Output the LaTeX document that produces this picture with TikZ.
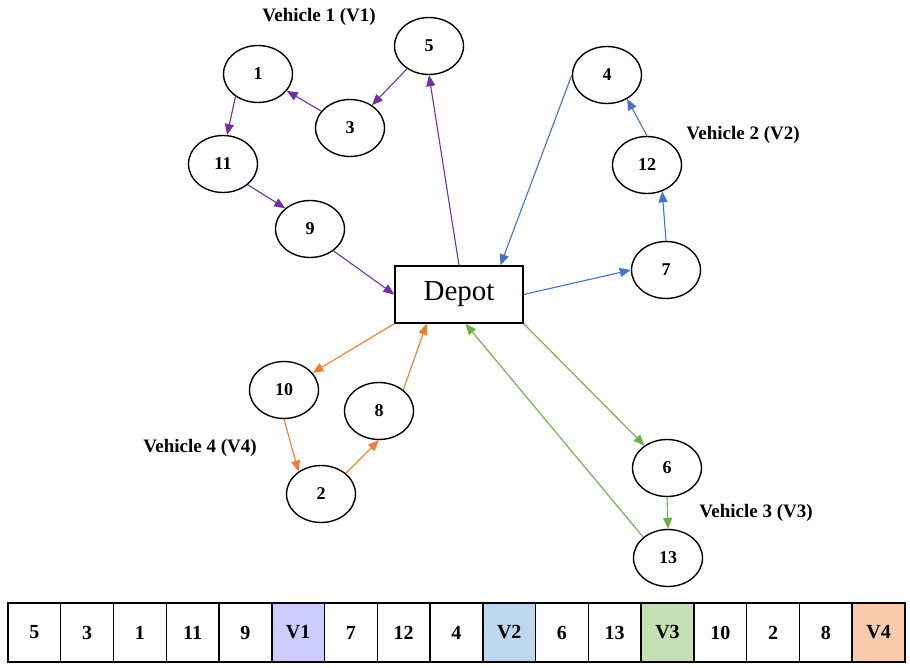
\documentclass[tikz,border=0pt]{standalone}
\usepackage{fontspec}
\setmainfont{Liberation Serif}
\usetikzlibrary{arrows.meta,calc,shapes.geometric}
\definecolor{cpur}{RGB}{112,48,160}
\definecolor{cblu}{RGB}{68,114,196}
\definecolor{cgrn}{RGB}{112,173,71}
\definecolor{cora}{RGB}{237,125,49}
\definecolor{fv1}{RGB}{204,204,255}
\definecolor{fv2}{RGB}{189,215,238}
\definecolor{fv3}{RGB}{197,224,180}
\definecolor{fv4}{RGB}{248,203,173}
\tikzset{
  cust/.style={ellipse,draw=black,line width=1.4pt,minimum width=69pt,minimum height=57pt,inner sep=0pt,font=\fontsize{18}{18}\selectfont\bfseries},
  vlabel/.style={font=\fontsize{19}{19}\selectfont\bfseries,inner sep=0pt},
  route/.style={line width=1.1pt,-{Triangle[length=11pt,width=9pt]}},
  cell/.style={draw=black,line width=1.4pt,minimum width=52.76pt,minimum height=59pt,inner sep=0pt,font=\fontsize{20}{20}\selectfont\bfseries},
}
\begin{document}
\begin{tikzpicture}[x=1pt,y=-1pt]
\useasboundingbox (0,0) rectangle (910,668);
% depot
\node[draw=black,line width=1.4pt,minimum width=128pt,minimum height=57pt,inner sep=0pt,font=\fontsize{29}{29}\selectfont] (depot) at (459,294.5) {Depot};
% customers
\node[cust] (n5) at (429,46) {5};
\node[cust] (n1) at (258,74) {1};
\node[cust] (n3) at (350,128) {3};
\node[cust] (n11) at (223,164) {11};
\node[cust] (n9) at (310,229) {9};
\node[cust] (n4) at (607,75) {4};
\node[cust] (n12) at (647,165) {12};
\node[cust] (n7) at (666,270) {7};
\node[cust] (n6) at (667,468) {6};
\node[cust] (n13) at (668,558) {13};
\node[cust] (n10) at (284,390) {10};
\node[cust] (n8) at (379,411) {8};
\node[cust] (n2) at (321,494) {2};
% labels
\node[vlabel] (l1) at (319,17) {Vehicle 1 (V1)};
\node[vlabel] (l2) at (743,135) {Vehicle 2 (V2)};
\node[vlabel] (l3) at (756,513) {Vehicle 3 (V3)};
\node[vlabel] (l4) at (200,448) {Vehicle 4 (V4)};
% depot attach points
\coordinate (dB) at ($(depot.north west)!0.82!(depot.north east)$);
\coordinate (dG) at ($(depot.south west)!0.55!(depot.south east)$);
\coordinate (dO) at ($(depot.south west)!0.25!(depot.south east)$);
% vehicle 1
\draw[route,cpur] (depot.north) -- (n5.south);
\draw[route,cpur] (n5) -- (n3);
\draw[route,cpur] (n3) -- (n1);
\draw[route,cpur] (n1.225) -- (n11.82);
\draw[route,cpur] (n11.-40) -- (n9.140);
\draw[route,cpur] (n9.-43) -- (depot.west);
% vehicle 2
\draw[route,cblu] (depot.east) -- (n7.west);
\draw[route,cblu] (n7.north) -- (n12.-60);
\draw[route,cblu] (n12.north) -- (n4.-50);
\draw[route,cblu] (n4.west) -- (dB);
% vehicle 3
\draw[route,cgrn] (depot.south east) -- (n6.135);
\draw[route,cgrn] (n6.south) -- (n13.north);
\draw[route,cgrn] (n13.140) -- (dG);
% vehicle 4
\draw[route,cora] (depot.south west) -- (n10);
\draw[route,cora] (n10.south) -- (n2.135);
\draw[route,cora] (n2.40) -- (n8.south);
\draw[route,cora] (n8.41) -- (dO);
% table
\foreach \t [count=\i] in {5,3,1,11,9,V1,7,12,4,V2,6,13,V3,10,2,8,V4} {
  \pgfmathsetmacro{\cx}{8+52.76*(\i-0.5)}
  \ifnum\i=6 \def\fc{fv1}\else\ifnum\i=10 \def\fc{fv2}\else\ifnum\i=13 \def\fc{fv3}\else\ifnum\i=17 \def\fc{fv4}\else\def\fc{white}\fi\fi\fi\fi
  \node[cell,fill=\fc] (c\i) at (\cx,632.5) {\t};
}
\end{tikzpicture}
\end{document}
